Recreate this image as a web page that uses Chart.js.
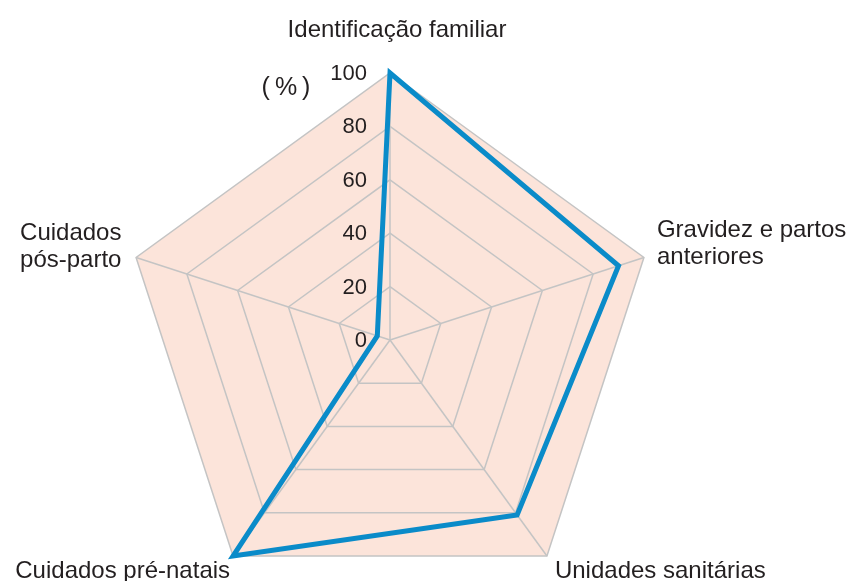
<!DOCTYPE html>
<html>
<head>
<meta charset="utf-8">
<script src="https://cdn.jsdelivr.net/npm/chart.js@4/dist/chart.umd.min.js"></script>
<style>
  html, body { margin: 0; padding: 0; background: #fff; overflow: hidden; }
  #wrap { position: relative; width: 850px; height: 607px; }
</style>
</head>
<body>
<div id="wrap"><canvas id="radar"></canvas></div>
<script>
// ── DATA ───────────────────────────────────────────────────────────────────
const categories = [
  ["Identificação familiar"],
  ["Gravidez e partos", "anteriores"],
  ["Unidades sanitárias"],
  ["Cuidados pré-natais"],
  ["Cuidados", "pós-parto"],
];
const values = [100, 90, 81, 100, 5];
const tickValues = [0, 20, 40, 60, 80, 100];
const unitLabel = "(\u2009%\u2009)";

const textColor = "#231f20";
const gridColor = "#c4c4c4";
const fillColor = "#fce4da";
const lineColor = "#0a8bc9";
const labelFont = "24px 'Liberation Sans', Arial, sans-serif";
const tickFont = "22px 'Liberation Sans', Arial, sans-serif";
const unitFont = "25px 'Liberation Sans', Arial, sans-serif";

// label placement relative to each outer vertex: dx, dy of first baseline, align
const labelPlace = [
  { dx: 7,    dy: -36, align: "center" },
  { dx: 13,   dy: -20, align: "left" },
  { dx: 8,    dy: 22,  align: "left" },
  { dx: -3,   dy: 22,  align: "right" },
  { dx: -116, dy: -17, align: "left" },
];
const lineH = 27;

// ── CUSTOM TEXT (ticks, unit, point labels) ────────────────────────────────
const textPlugin = {
  id: "radarText",
  afterDraw(chart) {
    const { ctx } = chart;
    const r = chart.scales.r;
    ctx.save();
    ctx.fillStyle = textColor;

    // tick labels left of the vertical axis
    ctx.font = tickFont;
    ctx.textAlign = "right";
    ctx.textBaseline = "middle";
    tickValues.forEach(v => {
      const y = r.yCenter - r.getDistanceFromCenterForValue(v);
      ctx.fillText(String(v), r.xCenter - 23, y + 1);
    });

    // unit
    ctx.font = unitFont;
    ctx.textAlign = "center";
    ctx.fillText(unitLabel, r.xCenter - 104, r.yCenter - r.getDistanceFromCenterForValue(100) + 15);

    // point labels
    ctx.font = labelFont;
    ctx.textBaseline = "alphabetic";
    categories.forEach((lines, i) => {
      const p = r.getPointPositionForValue(i, 100);
      const pl = labelPlace[i];
      ctx.textAlign = pl.align;
      lines.forEach((t, k) => ctx.fillText(t, p.x + pl.dx, p.y + pl.dy + k * lineH));
    });
    ctx.restore();
  },
};

new Chart(document.getElementById("radar").getContext("2d"), {
  type: "radar",
  data: {
    labels: categories.map(c => c.join(" ")),
    datasets: [{
      data: values,
      borderColor: lineColor,
      borderWidth: 5,
      borderJoinStyle: "miter",
      fill: false,
      pointRadius: 0,
      pointHoverRadius: 0,
      tension: 0,
    }],
  },
  options: {
    responsive: true, maintainAspectRatio: false, animation: false,
    layout: { padding: { left: 123, right: 193, top: 73, bottom: 0 } },
    plugins: { legend: { display: false }, tooltip: { enabled: false } },
    scales: {
      r: {
        min: 0, max: 100,
        backgroundColor: fillColor,
        ticks: { display: false, stepSize: 20 },
        pointLabels: { display: false },
        grid: { color: gridColor, lineWidth: 1.5, circular: false },
        angleLines: { color: gridColor, lineWidth: 1.5 },
      },
    },
  },
  plugins: [textPlugin],
});
</script>
</body>
</html>
